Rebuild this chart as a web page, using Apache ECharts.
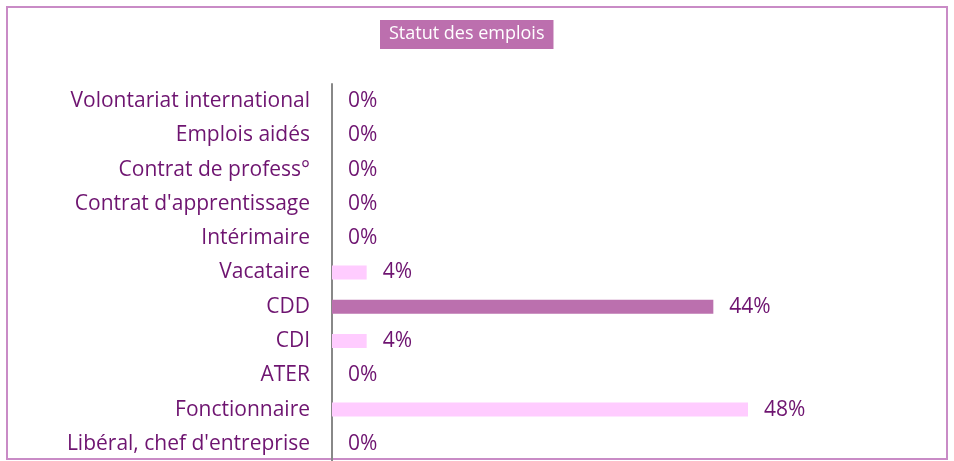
<!DOCTYPE html>
<html>
<head>
<meta charset="utf-8">
<script src="https://cdn.jsdelivr.net/npm/echarts@6/dist/echarts.min.js"></script>
<style>
  html, body { margin: 0; padding: 0; background: #fff; }
  #chart { width: 954px; height: 461px; }
</style>
</head>
<body>
<div id="chart"></div>
<script>
var categories = [
    'Volontariat international',
    'Emplois aidés',
    'Contrat de profess°',
    "Contrat d'apprentissage",
    'Intérimaire',
    'Vacataire',
    'CDD',
    'CDI',
    'ATER',
    'Fonctionnaire',
    "Libéral, chef d'entreprise"
];
var values = [0, 0, 0, 0, 0, 4, 44, 4, 0, 48, 0];
var highlight = 'CDD';

var textColor = '#6e1470';
var lightBar = '#ffccff';
var darkBar = '#bb70ae';

var chart = echarts.init(document.getElementById('chart'));
chart.setOption({
    animation: false,
    title: {
        text: 'Statut des emplois',
        left: 380,
        top: 20,
        backgroundColor: '#bc6fae',
        padding: [5, 9, 6, 9],
        textStyle: {
            color: '#fff',
            fontFamily: 'Open Sans',
            fontWeight: 'normal',
            fontSize: 18
        }
    },
    graphic: [{
        type: 'rect',
        shape: {x: 7, y: 7, width: 940, height: 452},
        style: {fill: 'none', stroke: '#c98bc6', lineWidth: 2},
        silent: true
    }],
    grid: {left: 332, right: 102, top: 84, bottom: 0},
    xAxis: {
        type: 'value',
        min: 0,
        max: 60,
        show: false
    },
    yAxis: {
        type: 'category',
        inverse: true,
        data: categories,
        axisLine: {lineStyle: {color: '#888', width: 2}},
        axisTick: {show: false},
        axisLabel: {
            margin: 22,
            color: textColor,
            fontFamily: 'Open Sans',
            fontSize: 21
        }
    },
    series: [{
        type: 'bar',
        barWidth: 14,
        data: values.map(function (v, i) {
            return {
                value: v,
                itemStyle: {color: categories[i] === highlight ? darkBar : lightBar}
            };
        }),
        label: {
            show: true,
            position: 'right',
            distance: 16,
            formatter: '{c}%',
            color: textColor,
            fontFamily: 'Open Sans',
            fontSize: 21
        }
    }]
});
</script>
</body>
</html>
